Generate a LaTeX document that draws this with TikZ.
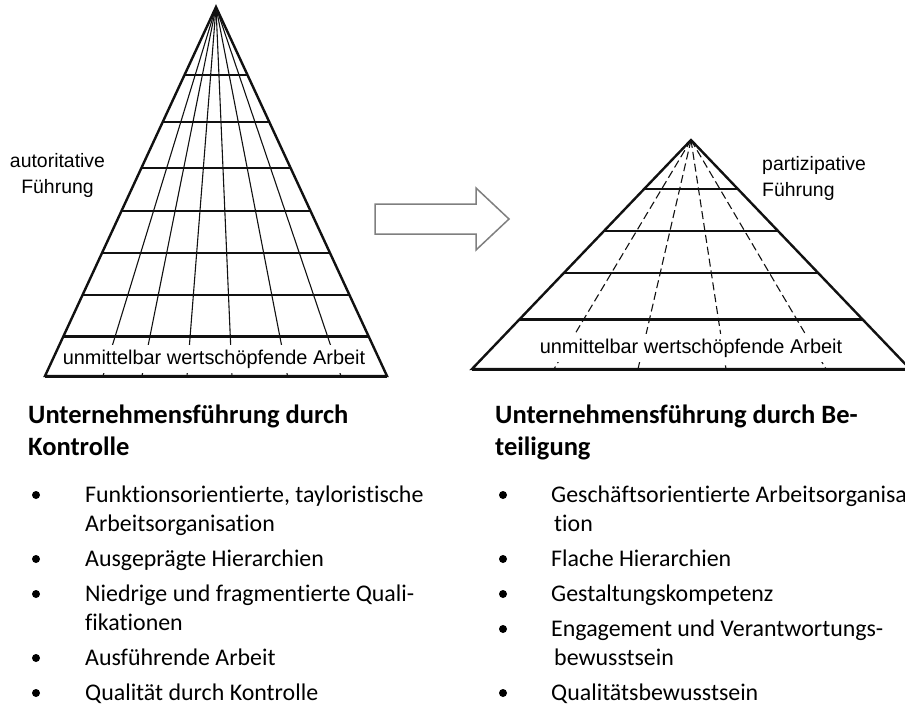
\documentclass[tikz,border=0pt]{standalone}
\usepackage{fontspec}
\setmainfont{Carlito}[Ligatures=NoCommon]
\newfontfamily\arialfont{Liberation Sans}
\usepackage{tikz}
\definecolor{pyInk}{HTML}{111111}
\definecolor{pyArrow}{HTML}{7F7F7F}

\begin{document}
\begin{tikzpicture}[x=1bp,y=-1bp,
    rim/.style={draw=pyInk,line width=2.4bp,line join=miter},
    floor/.style={draw=pyInk,line width=3bp},
    rung/.style={draw=pyInk,line width=1.3bp},
    ray/.style={draw=pyInk,line width=1.1bp},
    dashray/.style={draw=pyInk,line width=1.1bp,dash pattern=on 8bp off 4bp},
    bandtext/.style={fill=white,inner xsep=1bp,inner ysep=4.5bp,anchor=base,
                     font=\arialfont\fontsize{20}{24}\selectfont},
    sidetext/.style={inner sep=0pt,font=\arialfont\fontsize{19.5}{25}\selectfont},
    headtext/.style={anchor=base west,inner sep=0pt,font=\bfseries\fontsize{26.6}{32}\selectfont},
    itemtext/.style={anchor=base west,inner sep=0pt,font=\fontsize{24}{29}\selectfont},
    bulletdot/.style={circle,fill=black,inner sep=0pt,minimum size=8bp}]
  \useasboundingbox (0,0) rectangle (905,706);
  \clip (0,0) rectangle (905,706);

  % left pyramid (half width grows 171/369 per unit)
  \coordinate (lTop) at (216,7);
  \coordinate (lBL) at (45,376);
  \coordinate (lBR) at (387,376);
  \foreach \x in {103,142,187,232,287.5,341}
    \draw[ray] (lTop) -- (\x,376);
  \node[bandtext] (lBand) at (214,364) {unmittelbar wertschöpfende Arbeit};
  \foreach \y in {75,122,168,211,253,295}
    \draw[rung] ({216-0.4634*(\y-7)},\y) -- ({216+0.4634*(\y-7)},\y);
  \draw[floor] ({216-0.4634*329},336) -- ({216+0.4634*329},336);
  \draw[rim] (lTop) -- (lBL) -- (lBR) -- cycle;
  \draw[floor] (lBL) -- (lBR);
  \node[sidetext,anchor=base] (lSide1) at (57.5,168) {autoritative};
  \node[sidetext,anchor=base] (lSide2) at (57.5,193) {Führung};

  % arrow
  \draw[pyArrow,fill=white,line width=1.5bp,line join=miter]
    (375,204) -- (476,204) -- (476,188) -- (509,219) -- (476,250) -- (476,234) -- (375,234) -- cycle;

  % right pyramid (half width grows 219/229 per unit)
  \coordinate (rTop) at (691,140);
  \coordinate (rBL) at (472,369);
  \coordinate (rBR) at (910,369);
  \foreach \x in {554,638,726,826}
    \draw[dashray] (rTop) -- (\x,369);
  \node[bandtext] (rBand) at (691,353) {unmittelbar wertschöpfende Arbeit};
  \foreach \y in {189,231,273}
    \draw[rung] ({691-0.9563*(\y-140)},\y) -- ({691+0.9563*(\y-140)},\y);
  \draw[floor] ({691-0.9563*179},319) -- ({691+0.9563*179},319);
  \draw[rim] (rTop) -- (rBL) -- (rBR) -- cycle;
  \draw[floor] (rBL) -- (rBR);
  \node[sidetext,anchor=base west] (rSide1) at (762,171) {partizipative};
  \node[sidetext,anchor=base west] (rSide2) at (762,196) {Führung};

  % left column
  \node[headtext] (lHead1) at (28,423) {Unternehmensführung durch};
  \node[headtext] (lHead2) at (28,455) {Kontrolle};
  \foreach \y in {502,566,601,665,700}
    \node[bulletdot] at (36,\y-7) {};
  \node[itemtext] (lItem1) at (85,502) {Funktionsorientierte, tayloristische};
  \node[itemtext] (lItem1b) at (85,531) {Arbeitsorganisation};
  \node[itemtext] (lItem2) at (85,566) {Ausgeprägte Hierarchien};
  \node[itemtext] (lItem3) at (85,601) {Niedrige und fragmentierte Quali-};
  \node[itemtext] (lItem3b) at (85,630) {fikationen};
  \node[itemtext] (lItem4) at (85,665) {Ausführende Arbeit};
  \node[itemtext] (lItem5) at (85,700) {Qualität durch Kontrolle};

  % right column
  \node[headtext] (rHead1) at (495,423) {Unternehmensführung durch Be-};
  \node[headtext] (rHead2) at (495,455) {teiligung};
  \foreach \y in {502,566,601,636,700}
    \node[bulletdot] at (503,\y-7) {};
  \node[itemtext] (rItem1) at (551,502) {Geschäftsorientierte Arbeitsorganisa};
  \node[itemtext] (rItem1b) at (554,531) {tion};
  \node[itemtext] (rItem2) at (551,566) {Flache Hierarchien};
  \node[itemtext] (rItem3) at (551,601) {Gestaltungskompetenz};
  \node[itemtext] (rItem4) at (551,636) {Engagement und Verantwortungs-};
  \node[itemtext] (rItem4b) at (554,665) {bewusstsein};
  \node[itemtext] (rItem5) at (551,700) {Qualitätsbewusstsein};
\end{tikzpicture}
\end{document}
